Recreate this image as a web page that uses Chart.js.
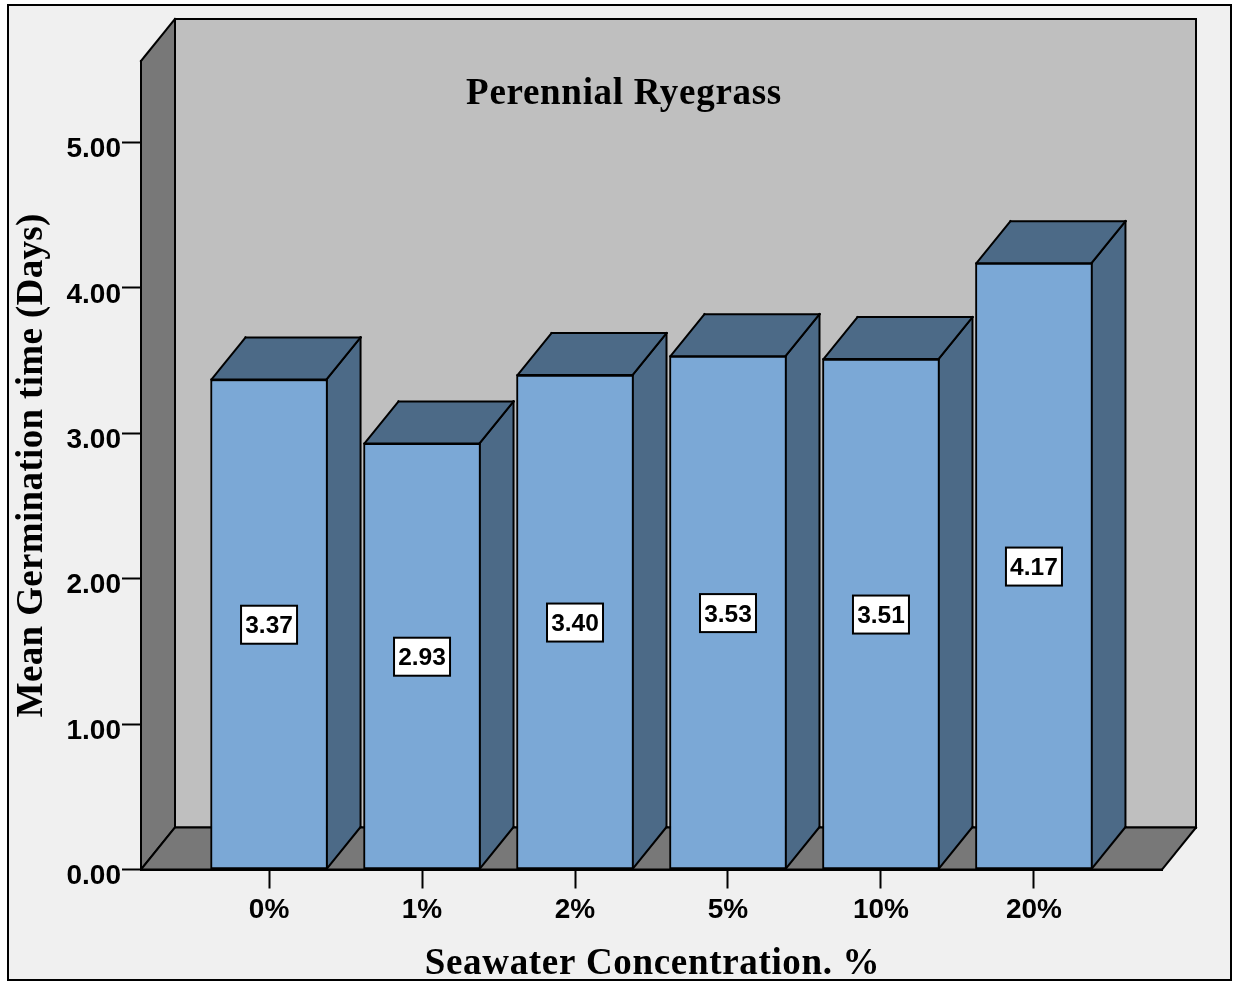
<!DOCTYPE html>
<html>
<head>
<meta charset="utf-8">
<title>Perennial Ryegrass</title>
<script src="https://cdn.jsdelivr.net/npm/chart.js@4/dist/chart.umd.min.js"></script>
<style>
    html, body { margin: 0; padding: 0; background: #fff; }
    canvas { display: block; }
</style>
</head>
<body>
<canvas id="myChart" width="1237" height="982"></canvas>
<script>
var categories = ['0%', '1%', '2%', '5%', '10%', '20%'];
var meanDays = [3.37, 2.93, 3.40, 3.53, 3.51, 4.17];
var yTicks = [0, 1, 2, 3, 4, 5];

var titleText = 'Perennial Ryegrass';
var xTitle = 'Seawater Concentration. %';
var yTitle = 'Mean Germination time (Days)';

var depthX = 34;
var depthY = 42;

var sansBold = '"Liberation Sans", Arial, sans-serif';
var serifBold = '"Liberation Serif", "Times New Roman", serif';

// fills a polygon and strokes each edge on its own so the corners overshoot a little
var face = function (c, pts, fill) {
    c.beginPath();
    pts.forEach(function (p, i) {
        if (i === 0) c.moveTo(p[0], p[1]); else c.lineTo(p[0], p[1]);
    });
    c.closePath();
    c.fillStyle = fill;
    c.fill();
    c.strokeStyle = '#000';
    c.lineWidth = 2;
    c.lineCap = 'square';
    pts.forEach(function (p, i) {
        var q = pts[(i + 1) % pts.length];
        c.beginPath();
        c.moveTo(p[0], p[1]);
        c.lineTo(q[0], q[1]);
        c.stroke();
    });
};

// serif headings are spaced wider than the library's title option allows
var spaced = function (c, text, x, y, spacing, angle) {
    c.save();
    c.translate(x, y);
    c.rotate(angle);
    c.textAlign = 'center';
    c.textBaseline = 'middle';
    c.fillStyle = '#000';
    c.font = 'bold 37px ' + serifBold;
    c.letterSpacing = spacing + 'px';
    c.fillText(text, 0, 0);
    c.restore();
};

var box3d = {
    id: 'box3d',
    // page frame, walls and floor go under the axes
    beforeDraw: function (chart) {
        var c = chart.ctx;
        var a = chart.chartArea;
        c.save();
        c.fillStyle = '#fff';
        c.fillRect(0, 0, chart.width, chart.height);
        c.fillStyle = '#f0f0f0';
        c.strokeStyle = '#000';
        c.lineWidth = 2;
        c.fillRect(8, 5, 1223, 975);
        c.strokeRect(8, 5, 1223, 975);

        face(c, [[a.left + depthX, a.top - depthY], [a.right + depthX, a.top - depthY],
                 [a.right + depthX, a.bottom - depthY], [a.left + depthX, a.bottom - depthY]], '#bfbfbf');
        face(c, [[a.left, a.top], [a.left + depthX, a.top - depthY],
                 [a.left + depthX, a.bottom - depthY], [a.left, a.bottom]], '#787878');
        face(c, [[a.left, a.bottom], [a.left + depthX, a.bottom - depthY],
                 [a.right + depthX, a.bottom - depthY], [a.right, a.bottom]], '#787878');
        c.restore();
    },
    // top and side of each bar, the library draws the front
    beforeDatasetsDraw: function (chart) {
        var c = chart.ctx;
        c.save();
        chart.getDatasetMeta(0).data.forEach(function (bar) {
            var l = bar.x - bar.width / 2 + 1;
            var r = bar.x + bar.width / 2 - 1;
            face(c, [[r, bar.y], [r + depthX, bar.y - depthY],
                     [r + depthX, bar.base - depthY], [r, bar.base]], '#4c6a87');
            face(c, [[l, bar.y], [l + depthX, bar.y - depthY],
                     [r + depthX, bar.y - depthY], [r, bar.y]], '#4c6a87');
        });
        c.restore();
    },
    afterDatasetsDraw: function (chart) {
        var c = chart.ctx;
        var a = chart.chartArea;
        c.save();
        c.textAlign = 'center';
        c.textBaseline = 'middle';
        chart.getDatasetMeta(0).data.forEach(function (bar, i) {
            var mid = (bar.y + bar.base) / 2 + 0.5;
            c.fillStyle = '#fff';
            c.strokeStyle = '#000';
            c.lineWidth = 2;
            c.fillRect(bar.x - 28, mid - 19, 56, 38);
            c.strokeRect(bar.x - 28, mid - 19, 56, 38);
            c.fillStyle = '#000';
            c.font = 'bold 24.5px ' + sansBold;
            c.fillText(meanDays[i].toFixed(2), bar.x, mid + 2);
        });
        spaced(c, titleText, 624, 94, 0.7, 0);
        spaced(c, xTitle, (a.left + a.right) / 2 + 1, 964, 0.67, 0);
        spaced(c, yTitle, 32, (a.top + a.bottom) / 2, 0.35, -Math.PI / 2);
        c.restore();
    }
};

new Chart(document.getElementById('myChart'), {
    type: 'bar',
    plugins: [box3d],
    data: {
        datasets: [{
            data: meanDays.map(function (v, i) { return { x: i, y: v }; }),
            backgroundColor: '#7ba8d6',
            borderColor: '#000',
            borderWidth: 2,
            borderSkipped: false,
            barThickness: 117
        }]
    },
    options: {
        responsive: false,
        animation: false,
        layout: { padding: { left: 0, right: 75, top: 61, bottom: 0 } },
        plugins: { legend: { display: false }, tooltip: { enabled: false } },
        scales: {
            x: {
                type: 'linear',
                offset: false,
                min: -0.837,
                max: 5.837,
                afterFit: function (s) { s.height = 112.5; },
                afterBuildTicks: function (s) {
                    s.ticks = categories.map(function (c, i) { return { value: i }; });
                },
                grid: { offset: false, drawOnChartArea: false, tickLength: 19, tickWidth: 2, tickColor: '#000' },
                border: { display: true, color: '#000', width: 2 },
                ticks: {
                    autoSkip: false,
                    maxRotation: 0,
                    padding: 5,
                    color: '#000',
                    font: { family: sansBold, weight: 'bold', size: 28 },
                    callback: function (v) { return categories[v]; }
                }
            },
            y: {
                min: 0,
                max: 5.56,
                afterFit: function (s) { s.width = 141; },
                afterBuildTicks: function (s) {
                    s.ticks = yTicks.map(function (v) { return { value: v }; });
                },
                grid: { drawOnChartArea: false, tickLength: 19, tickWidth: 2, tickColor: '#000' },
                border: { display: true, color: '#000', width: 2 },
                ticks: {
                    padding: 1,
                    labelOffset: 7,
                    color: '#000',
                    font: { family: sansBold, weight: 'bold', size: 28 },
                    callback: function (v) { return v.toFixed(2); }
                }
            }
        }
    }
});
</script>
</body>
</html>
